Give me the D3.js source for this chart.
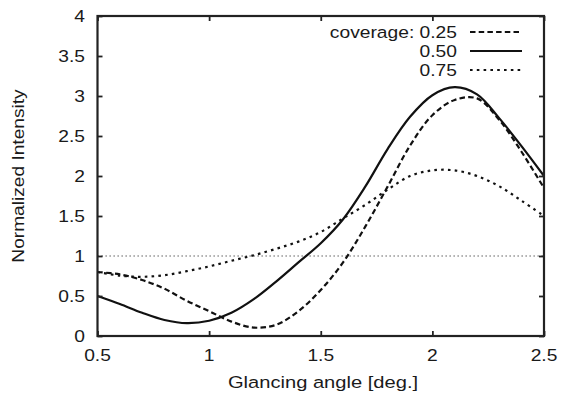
<!DOCTYPE html>
<html>
<head>
<meta charset="utf-8">
<script src="https://cdn.jsdelivr.net/npm/d3@7"></script>
<style>
  html, body { margin: 0; padding: 0; background: #fff; }
  svg { display: block; }
  text { font-family: "Liberation Sans", Arial, Helvetica, sans-serif; fill: #1a1a1a; }
</style>
</head>
<body>
<svg id="chart" width="563" height="397"></svg>
<script>
// ---- data ----
const angles = [0.5,0.6,0.7,0.8,0.9,1.0,1.1,1.2,1.3,1.4,1.5,1.6,1.7,1.8,1.9,2.0,2.1,2.2,2.3,2.4,2.5];
const cov025 = [0.80,0.77,0.70,0.59,0.44,0.31,0.18,0.105,0.14,0.31,0.575,0.92,1.37,1.87,2.38,2.76,2.95,2.97,2.70,2.30,1.85];
const cov050 = [0.50,0.40,0.29,0.20,0.16,0.19,0.29,0.46,0.68,0.92,1.16,1.46,1.87,2.34,2.74,3.01,3.11,3.02,2.72,2.37,2.00];
const cov075 = [0.80,0.755,0.74,0.76,0.81,0.87,0.94,1.01,1.09,1.18,1.30,1.47,1.64,1.83,2.00,2.07,2.07,2.00,1.87,1.69,1.50];
const refLevel = 1;
const xTicks = [0.5, 1, 1.5, 2, 2.5];
const xTickLabels = ["0.5", "1", "1.5", "2", "2.5"];
const yTicks = [0, 0.5, 1, 1.5, 2, 2.5, 3, 3.5, 4];
const yTickLabels = ["0", "0.5", "1", "1.5", "2", "2.5", "3", "3.5", "4"];
const legendLabels = ["coverage: 0.25", "0.50", "0.75"];
const xTitle = "Glancing angle [deg.]";
const yTitle = "Normalized Intensity";

// ---- layout ----
const L = 97.5, R = 544, T = 16, B = 336;
const FS = 16.5, SX = 1.165; // horizontal text stretch seen in the reference
const svg = d3.select("#chart");
const x = d3.scaleLinear().domain([0.5, 2.5]).range([L, R]);
const y = d3.scaleLinear().domain([0, 4]).range([B, T]);

const styles = [
  { data: cov025, dash: "5.5,3.2" },
  { data: cov050, dash: null },
  { data: cov075, dash: "2.6,4.2" }
];

// reference line at 1
svg.append("line")
  .attr("x1", x(0.5)).attr("x2", x(2.5))
  .attr("y1", y(refLevel)).attr("y2", y(refLevel))
  .attr("stroke", "#444").attr("stroke-width", 1.1)
  .attr("stroke-dasharray", "1.3,2.7");

// curves
const line = d3.line()
  .x((d, i) => x(angles[i]))
  .y(d => y(d))
  .curve(d3.curveCatmullRom.alpha(0.5));

styles.forEach(s => {
  svg.append("path")
    .attr("d", line(s.data))
    .attr("fill", "none")
    .attr("stroke", "#111")
    .attr("stroke-width", 2.2)
    .attr("stroke-dasharray", s.dash);
});

// axes (ticks inward, mirrored)
const tickLen = 5;
const gx = svg.append("g").attr("transform", `translate(0,${B})`)
  .call(d3.axisBottom(x).tickValues(xTicks).tickSize(-tickLen).tickFormat(""));
const gxt = svg.append("g").attr("transform", `translate(0,${T})`)
  .call(d3.axisTop(x).tickValues(xTicks).tickSize(-tickLen).tickFormat(""));
const gy = svg.append("g").attr("transform", `translate(${L},0)`)
  .call(d3.axisLeft(y).tickValues(yTicks).tickSize(-tickLen).tickFormat(""));
const gyr = svg.append("g").attr("transform", `translate(${R},0)`)
  .call(d3.axisRight(y).tickValues(yTicks).tickSize(-tickLen).tickFormat(""));
[gx, gxt, gy, gyr].forEach(g => {
  g.select(".domain").remove();
  g.selectAll(".tick line").attr("stroke", "#222").attr("stroke-width", 1.8);
});

// frame
svg.append("rect")
  .attr("x", L).attr("y", T).attr("width", R - L).attr("height", B - T)
  .attr("fill", "none").attr("stroke", "#222").attr("stroke-width", 2.2);

// text helper (stretched along the writing direction)
function stretched(g, tx, ty, txt, anchor, size, sx, rot) {
  return g.append("text")
    .attr("transform", `translate(${tx},${ty})` + (rot ? ` rotate(${rot})` : "") + ` scale(${sx},1)`)
    .attr("text-anchor", anchor)
    .attr("font-size", size)
    .text(txt);
}
xTicks.forEach((v, i) => stretched(svg, x(v), 361, xTickLabels[i], "middle", FS, SX));
yTicks.forEach((v, i) => stretched(svg, 85, y(v) + 6, yTickLabels[i], "end", FS, SX));

// axis titles
stretched(svg, 323, 388, xTitle, "middle", FS, 1.22);
stretched(svg, 24, 176, yTitle, "middle", FS, 1.16, -90);

// legend
const rowY = [32, 51, 70];
legendLabels.forEach((lab, i) => {
  stretched(svg, 457, rowY[i] + 6, lab, "end", FS, SX);
  svg.append("line")
    .attr("x1", 470).attr("x2", 522)
    .attr("y1", rowY[i]).attr("y2", rowY[i])
    .attr("stroke", "#111").attr("stroke-width", 2.2)
    .attr("stroke-dasharray", styles[i].dash);
});
</script>
</body>
</html>
